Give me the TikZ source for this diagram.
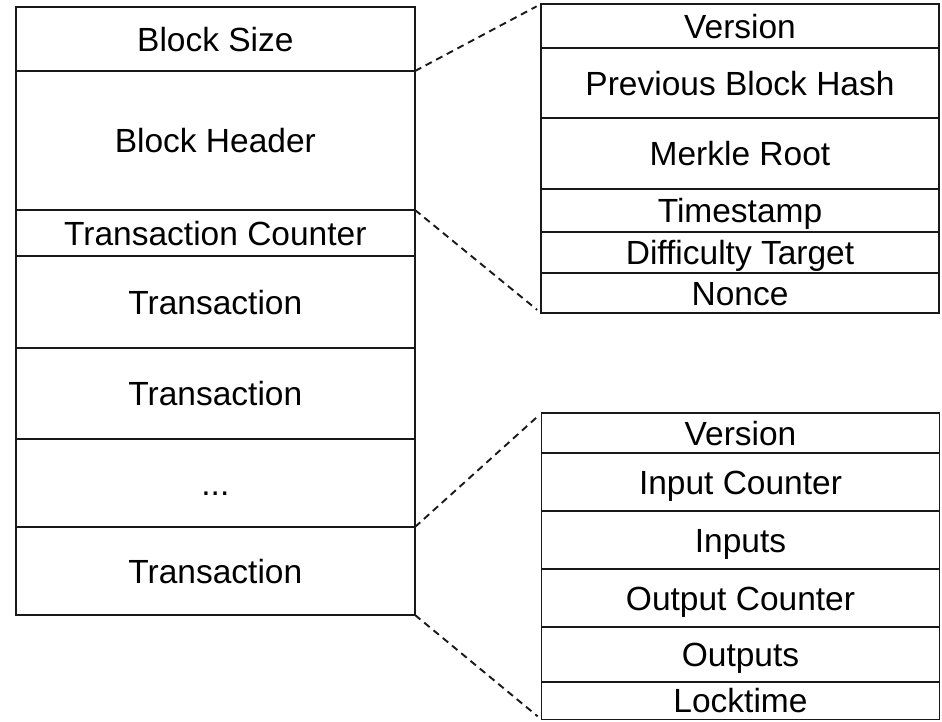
\documentclass[tikz,border=0pt]{standalone}
\usepackage{fontspec}
\setmainfont{Liberation Sans}
\begin{document}
\begin{tikzpicture}[x=1pt,y=-1pt,
  cell/.style={draw=black!90,line width=1.9pt,rectangle,inner sep=0pt,outer sep=0pt,
    font=\fontsize{33.5}{40}\selectfont,text height=24.4pt,text depth=0pt,
    anchor=center},
  lcell/.style={cell,minimum width=399.3pt},
  rcell/.style={cell,minimum width=398pt},
  zoomline/.style={draw=black!90,line width=1.9pt,dash pattern=on 7pt off 5pt,shorten >=5pt}
]
\useasboundingbox (0,0) rectangle (942,721);
% left column
\node[lcell,minimum height=64pt]  (bs)  at (215.35,39)    {Block Size};
\node[lcell,minimum height=139pt] (bh)  at (215.35,140.5) {Block Header};
\node[lcell,minimum height=46pt]  (tc)  at (215.35,233)   {Transaction Counter};
\node[lcell,minimum height=92pt]  (t1)  at (215.35,302)   {Transaction};
\node[lcell,minimum height=91pt]  (t2)  at (215.35,393.5) {Transaction};
\node[lcell,minimum height=88pt]  (td)  at (215.35,483)   {...};
\node[lcell,minimum height=88pt]  (t3)  at (215.35,571)   {Transaction};
% block header detail
\node[rcell,minimum height=44pt] (hv)  at (740,26)    {Version};
\node[rcell,minimum height=70pt] (hp)  at (740,83)    {Previous Block Hash};
\node[rcell,minimum height=71pt] (hm)  at (740,153.5) {Merkle Root};
\node[rcell,minimum height=43pt] (hts) at (740,210.5) {Timestamp};
\node[rcell,minimum height=41pt] (hd)  at (740,252.5) {Difficulty Target};
\node[rcell,minimum height=40pt] (hn)  at (740,293)   {Nonce};
% transaction detail
\node[rcell,minimum height=40pt] (xv)  at (740.5,433)    {Version};
\node[rcell,minimum height=58pt] (xic) at (740.5,482)    {Input Counter};
\node[rcell,minimum height=58pt] (xi)  at (740.5,540)    {Inputs};
\node[rcell,minimum height=58pt] (xoc) at (740.5,598)    {Output Counter};
\node[rcell,minimum height=55pt] (xo)  at (740.5,654.5)  {Outputs};
\node[rcell,minimum height=37.5pt] (xl) at (740.5,700.75) {Locktime};
% zoom connectors
\draw[zoomline] (bh.north east) -- (hv.north west);
\draw[zoomline] (bh.south east) -- (hn.south west);
\draw[zoomline] (t3.north east) -- (xv.north west);
\draw[zoomline] (t3.south east) -- (xl.south west);
\end{tikzpicture}
\end{document}
